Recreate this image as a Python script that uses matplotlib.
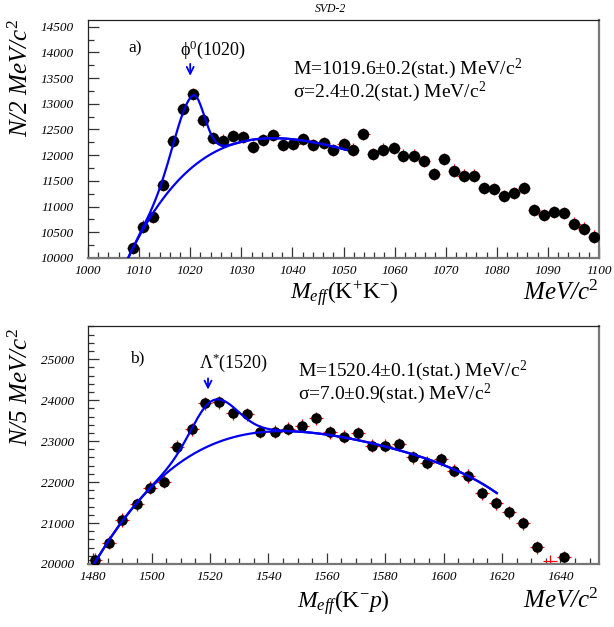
import numpy as np
import matplotlib
matplotlib.use("Agg")
import matplotlib.pyplot as plt
from matplotlib.ticker import MultipleLocator, FormatStrFormatter

plt.rcParams['font.family'] = ['Liberation Serif', 'DejaVu Serif']
plt.rcParams['mathtext.fontset'] = 'custom'
plt.rcParams['mathtext.rm'] = 'Liberation Serif'
plt.rcParams['mathtext.it'] = 'Liberation Serif:italic'

W, H = 614, 627

# ---- a) K+K- spectrum (N / 2 MeV) ----
kk_mass = [1008.8, 1010.7, 1012.7, 1014.7, 1016.6, 1018.6, 1020.5, 1022.5, 1024.5, 1026.4,
           1028.4, 1030.4, 1032.3, 1034.3, 1036.3, 1038.2, 1040.2, 1042.1, 1044.1, 1046.1,
           1048.0, 1050.0, 1051.9, 1053.9, 1055.8, 1057.8, 1059.8, 1061.7, 1063.7, 1065.7,
           1067.7, 1069.6, 1071.6, 1073.5, 1075.5, 1077.5, 1079.4, 1081.4, 1083.4, 1085.3,
           1087.3, 1089.3, 1091.2, 1093.2, 1095.2, 1097.1, 1099.1]
kk_counts = [10190, 10610, 10805, 11420, 12280, 12905, 13195, 12675, 12335, 12285,
             12378, 12350, 12157, 12300, 12397, 12202, 12222, 12313, 12202, 12235,
             12100, 12222, 12110, 12410, 12020, 12110, 12140, 11994, 11994, 11890,
             11637, 11930, 11701, 11604, 11604, 11358, 11338, 11202, 11260, 11358,
             10929, 10838, 10890, 10870, 10669, 10571, 10415]
kk_err = 120          # vertical error
kk_xerr = 1.2         # horizontal error

# background curve of the fit
kk_bg_mass = [1007.8, 1012.7, 1016.3, 1019.5, 1022.8, 1026.7, 1030.2, 1034.1,
              1038.0, 1041.9, 1045.8, 1050.7]
kk_bg_counts = [10000, 10850, 11325, 11715, 11975, 12170, 12235, 12300,
                12320, 12300, 12235, 12090]
# signal peak as drawn: position, height, left/right width
kk_peak = 1020.4
kk_amp = 1390
kk_wl, kk_wr = 3.6, 2.3

# ---- b) K-p spectrum (N / 5 MeV) ----
kp_mass = [1480.5, 1485.3, 1489.9, 1494.9, 1499.4, 1504.2, 1508.8, 1513.8, 1518.2, 1523.0,
           1527.8, 1532.6, 1537.2, 1542.1, 1546.6, 1551.5, 1556.3, 1561.1, 1565.9, 1570.5,
           1575.3, 1579.9, 1584.7, 1589.4, 1594.2, 1599.0, 1603.5, 1608.4, 1613.0, 1617.8,
           1622.5, 1627.3, 1631.8, 1641.2]
kp_counts = [20098, 20520, 21075, 21458, 21864, 22010, 22866, 23290, 23925, 23950,
             23681, 23657, 23232, 23232, 23300, 23375, 23558, 23217, 23110, 23192,
             22890, 22890, 22924, 22606, 22475, 22557, 22279, 22149, 21727, 21483,
             21263, 20994, 20408, 20164]
kp_err = 160
kp_xerr = 2.4
# point whose marker falls off the plot, only the error cross is seen
kp_cross_mass = [1636.4]
kp_cross_counts = [20070]

kp_bg_mass = [1480.2, 1485.3, 1489.9, 1494.9, 1499.4, 1505.0, 1512.4, 1523.8, 1535.3,
              1544.0, 1555.3, 1566.8, 1578.2, 1589.6, 1601.0, 1612.4, 1618.2]
kp_bg_counts = [20000, 20540, 21060, 21470, 21864, 22230, 22620, 22948, 23175,
                23280, 23240, 23070, 22865, 22662, 22418, 21990, 21727]
kp_peak = 1521.0
kp_amp = 1070
kp_wl, kp_wr = 7.2, 8.0


def fit_curves(bx, by, deg, x0, amp, wl, wr):
    bx = np.asarray(bx, float)
    mid, half = (bx[0] + bx[-1]) / 2, (bx[-1] - bx[0]) / 2
    p = np.polyfit((bx - mid) / half, by, deg)
    grid = np.linspace(bx[0], bx[-1], 400)
    bg = np.polyval(p, (grid - mid) / half)
    w = np.where(grid < x0, wl, wr)
    return grid, bg, bg + amp * np.exp(-0.5 * ((grid - x0) / w) ** 2)


def panel(ax, mass, counts, err, xerr, ms, curves, xlim, ylim, xmaj, xmin, ymaj, ymin):
    grid, bg, tot = curves
    ax.errorbar(mass, counts, yerr=err, xerr=xerr, fmt='none', ecolor='red',
                elinewidth=0.9, zorder=2)
    ax.plot(mass, counts, 'o', color='black', ms=ms, zorder=3)
    ax.plot(grid, bg, color='#0000ee', lw=1.6, zorder=4)
    ax.plot(grid, tot, color='#0000ee', lw=1.6, zorder=4)
    ax.set_xlim(*xlim)
    ax.set_ylim(*ylim)
    ax.xaxis.set_major_locator(MultipleLocator(xmaj))
    ax.xaxis.set_minor_locator(MultipleLocator(xmin))
    ax.yaxis.set_major_locator(MultipleLocator(ymaj))
    ax.yaxis.set_minor_locator(MultipleLocator(ymin))
    ax.xaxis.set_major_formatter(FormatStrFormatter('%d'))
    ax.yaxis.set_major_formatter(FormatStrFormatter('%d'))
    ax.tick_params(which='both', direction='in', color='#333333', width=0.9)
    ax.tick_params(which='major', length=8)
    ax.tick_params(which='minor', length=4.5)
    ax.tick_params(axis='y', pad=10)
    ax.tick_params(axis='x', pad=5)
    for lab in ax.get_xticklabels() + ax.get_yticklabels():
        lab.set_fontstyle('italic')
        lab.set_fontsize(9.5)
    for side in ['left', 'top']:
        ax.spines[side].set_color('#222222')
        ax.spines[side].set_linewidth(0.9)
    for side in ['right', 'bottom']:
        ax.spines[side].set_color('#777777')
        ax.spines[side].set_linewidth(1.6)


def at(x, y):
    return x / W, 1 - y / H


fig = plt.figure(figsize=(W / 100, H / 100), dpi=100)
ax1 = fig.add_axes([88 / W, 1 - 258 / H, 511 / W, 238 / H])
ax2 = fig.add_axes([88 / W, 1 - 564 / H, 511 / W, 238 / H])

panel(ax1, kk_mass, kk_counts, kk_err, kk_xerr, 7.2,
      fit_curves(kk_bg_mass, kk_bg_counts, 4, kk_peak, kk_amp, kk_wl, kk_wr),
      (1000, 1100), (10000, 14630), 10, 2, 500, 250)
panel(ax2, kp_mass, kp_counts, kp_err, kp_xerr, 6.6,
      fit_curves(kp_bg_mass, kp_bg_counts, 5, kp_peak, kp_amp, kp_wl, kp_wr),
      (1478.2, 1653.2), (20000, 25810), 20, 5, 1000, 200)
ax2.errorbar(kp_cross_mass, kp_cross_counts, yerr=kp_err, xerr=kp_xerr, fmt='none',
             ecolor='red', elinewidth=0.9, clip_on=True)

# arrows over the resonance peaks
arrow = dict(arrowstyle='->,head_length=0.5,head_width=0.25', color='#0000ee', lw=1.3)
ax1.annotate('', xy=(1020, 13490), xytext=(1020, 13830), arrowprops=arrow)
ax2.annotate('', xy=(1519.3, 24190), xytext=(1519.3, 24600), arrowprops=arrow)

fig.text(*at(330, 9), 'SVD-2', ha='center', va='center', fontsize=8.5, fontstyle='italic')

# panel a) texts
fig.text(*at(128, 52), 'a)', fontsize=12.5, va='baseline')
fig.text(*at(180, 55), r'ϕ$^{0}$(1020)', fontsize=13, va='baseline')
fig.text(*at(293, 97), 'M=1019.6±0.2(stat.) MeV/c$^{2}$\n'
         'σ=2.4±0.2(stat.) MeV/c$^{2}$', fontsize=14, va='baseline', linespacing=0.92)
fig.text(*at(21, 78), r'N/2 MeV/c$^{\mathit{2}}$', rotation=90, ha='center', va='center',
         fontsize=18, fontstyle='italic')
fig.text(*at(290, 300), r'$M_{eff}$(K$^{+}$K$^{-}$)', fontsize=17, va='baseline')
fig.text(*at(523, 300), r'MeV/c$^{\mathit{2}}$', fontsize=18, va='baseline', fontstyle='italic')

# panel b) texts
fig.text(*at(130, 362), 'b)', fontsize=12.5, va='baseline')
fig.text(*at(199, 368), r'Λ$^{*}$(1520)', fontsize=13, va='baseline')
fig.text(*at(298, 399), 'M=1520.4±0.1(stat.) MeV/c$^{2}$\n'
         'σ=7.0±0.9(stat.) MeV/c$^{2}$', fontsize=14, va='baseline', linespacing=0.92)
fig.text(*at(21, 387), r'N/5 MeV/c$^{\mathit{2}}$', rotation=90, ha='center', va='center',
         fontsize=18, fontstyle='italic')
fig.text(*at(297, 608), r'$M_{eff}$(K$^{-}$$p$)', fontsize=17, va='baseline')
fig.text(*at(523, 608), r'MeV/c$^{\mathit{2}}$', fontsize=18, va='baseline', fontstyle='italic')

fig.savefig('out.png', dpi=100)
